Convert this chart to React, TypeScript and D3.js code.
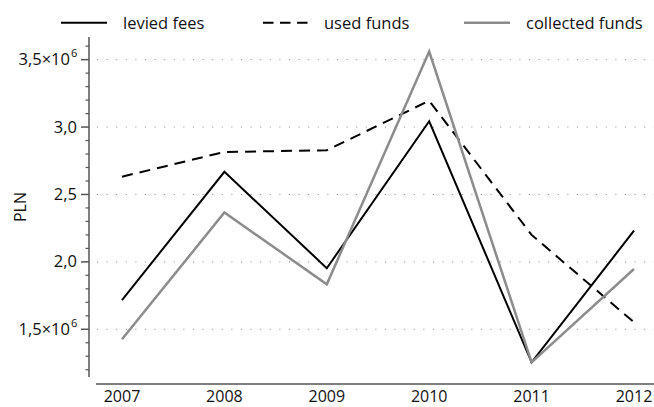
import React from 'react';
import * as d3 from 'd3';

const years = [2007, 2008, 2009, 2010, 2011, 2012];
const leviedFees = [1.717e6, 2.668e6, 1.953e6, 3.043e6, 1.255e6, 2.231e6];
const usedFunds = [2.632e6, 2.815e6, 2.828e6, 3.195e6, 2.2e6, 1.552e6];
const collectedFunds = [1.426e6, 2.366e6, 1.834e6, 3.56e6, 1.255e6, 1.947e6];
const majorTicks = [1.5e6, 2.0e6, 2.5e6, 3.0e6, 3.5e6];
const seriesNames = ['levied fees', 'used funds', 'collected funds'];

const W = 654;
const H = 407;
const FONT = "'Open Sans', sans-serif";

const x = d3.scaleLinear().domain([2007, 2012]).range([122, 634]);
const y = d3.scaleLinear().domain([1.146e6, 3.668e6]).range([377, 37]);
const minorTicks = d3.range(12, 37).map(v => v * 1e5).filter(v => !majorTicks.includes(v));

const series = [
  { name: seriesNames[0], values: leviedFees, color: '#000', width: 2, dash: undefined },
  { name: seriesNames[1], values: usedFunds, color: '#000', width: 2, dash: '11,7' },
  { name: seriesNames[2], values: collectedFunds, color: '#8c8c8c', width: 2.5, dash: undefined },
];

const legendX = [61, 263, 464];

const line = d3.line<number>()
  .x((d, i) => x(years[i]))
  .y(d => y(d));

const fmt = (v: number) => (v / 1e6).toFixed(1).replace('.', ',');

const App: React.FC = () => {
  const axisColor = '#555';
  return (
    <svg width={W} height={H} style={{ position: 'absolute', left: 0, top: 0, background: '#fff' }}
      fontFamily={FONT}>
      {/* grid */}
      {majorTicks.map(t => (
        <line key={'g' + t} x1={97} x2={W} y1={y(t)} y2={y(t)} stroke="#888" strokeWidth={1}
          strokeDasharray="1,8.6" />
      ))}
      {/* y axis */}
      <line x1={89} x2={89} y1={y.range()[1]} y2={y.range()[0]} stroke={axisColor} strokeWidth={1.5} />
      {majorTicks.map(t => (
        <line key={'M' + t} x1={81} x2={89} y1={y(t)} y2={y(t)} stroke={axisColor} strokeWidth={1.5} />
      ))}
      {minorTicks.map(t => (
        <line key={'m' + t} x1={85.5} x2={89} y1={y(t)} y2={y(t)} stroke={axisColor} strokeWidth={1.2} />
      ))}
      {majorTicks.map((t, i) => {
        const ends = i === 0 || i === majorTicks.length - 1;
        return (
          <text key={'l' + t} x={ends ? 70 : 77} y={y(t) + 5.5} textAnchor="end" fontSize={16.5} fill="#111">
            {fmt(t)}{ends ? '×10' : ''}
            {ends && <tspan x={71} dy={-8} fontSize={11} textAnchor="start">6</tspan>}
          </text>
        );
      })}
      <text transform={`translate(26,${(y.range()[0] + y.range()[1]) / 2}) rotate(-90)`} textAnchor="middle"
        fontSize={16} fill="#111">PLN</text>
      {/* x axis */}
      <line x1={96} x2={W} y1={384} y2={384} stroke={axisColor} strokeWidth={1.5} />
      {years.map(yr => (
        <text key={yr} x={x(yr)} y={402} textAnchor="middle" fontSize={16} fill="#111">{yr}</text>
      ))}
      {/* series */}
      {series.map(s => (
        <path key={s.name} d={line(s.values) || ''} fill="none" stroke={s.color} strokeWidth={s.width}
          strokeDasharray={s.dash} strokeLinejoin="miter" />
      ))}
      {/* legend */}
      {series.map((s, i) => (
        <g key={'lg' + s.name} transform={`translate(${legendX[i]},0)`}>
          <line x1={0} x2={s.dash ? 45 : 46} y1={22.7} y2={22.7} stroke={s.color} strokeWidth={s.width}
            strokeDasharray={s.dash ? '10.5,6.5' : undefined} />
          <text x={i === 1 ? 61 : 62} y={29} fontSize={16.5} fill="#111">{s.name}</text>
        </g>
      ))}
    </svg>
  );
};

export default App;
